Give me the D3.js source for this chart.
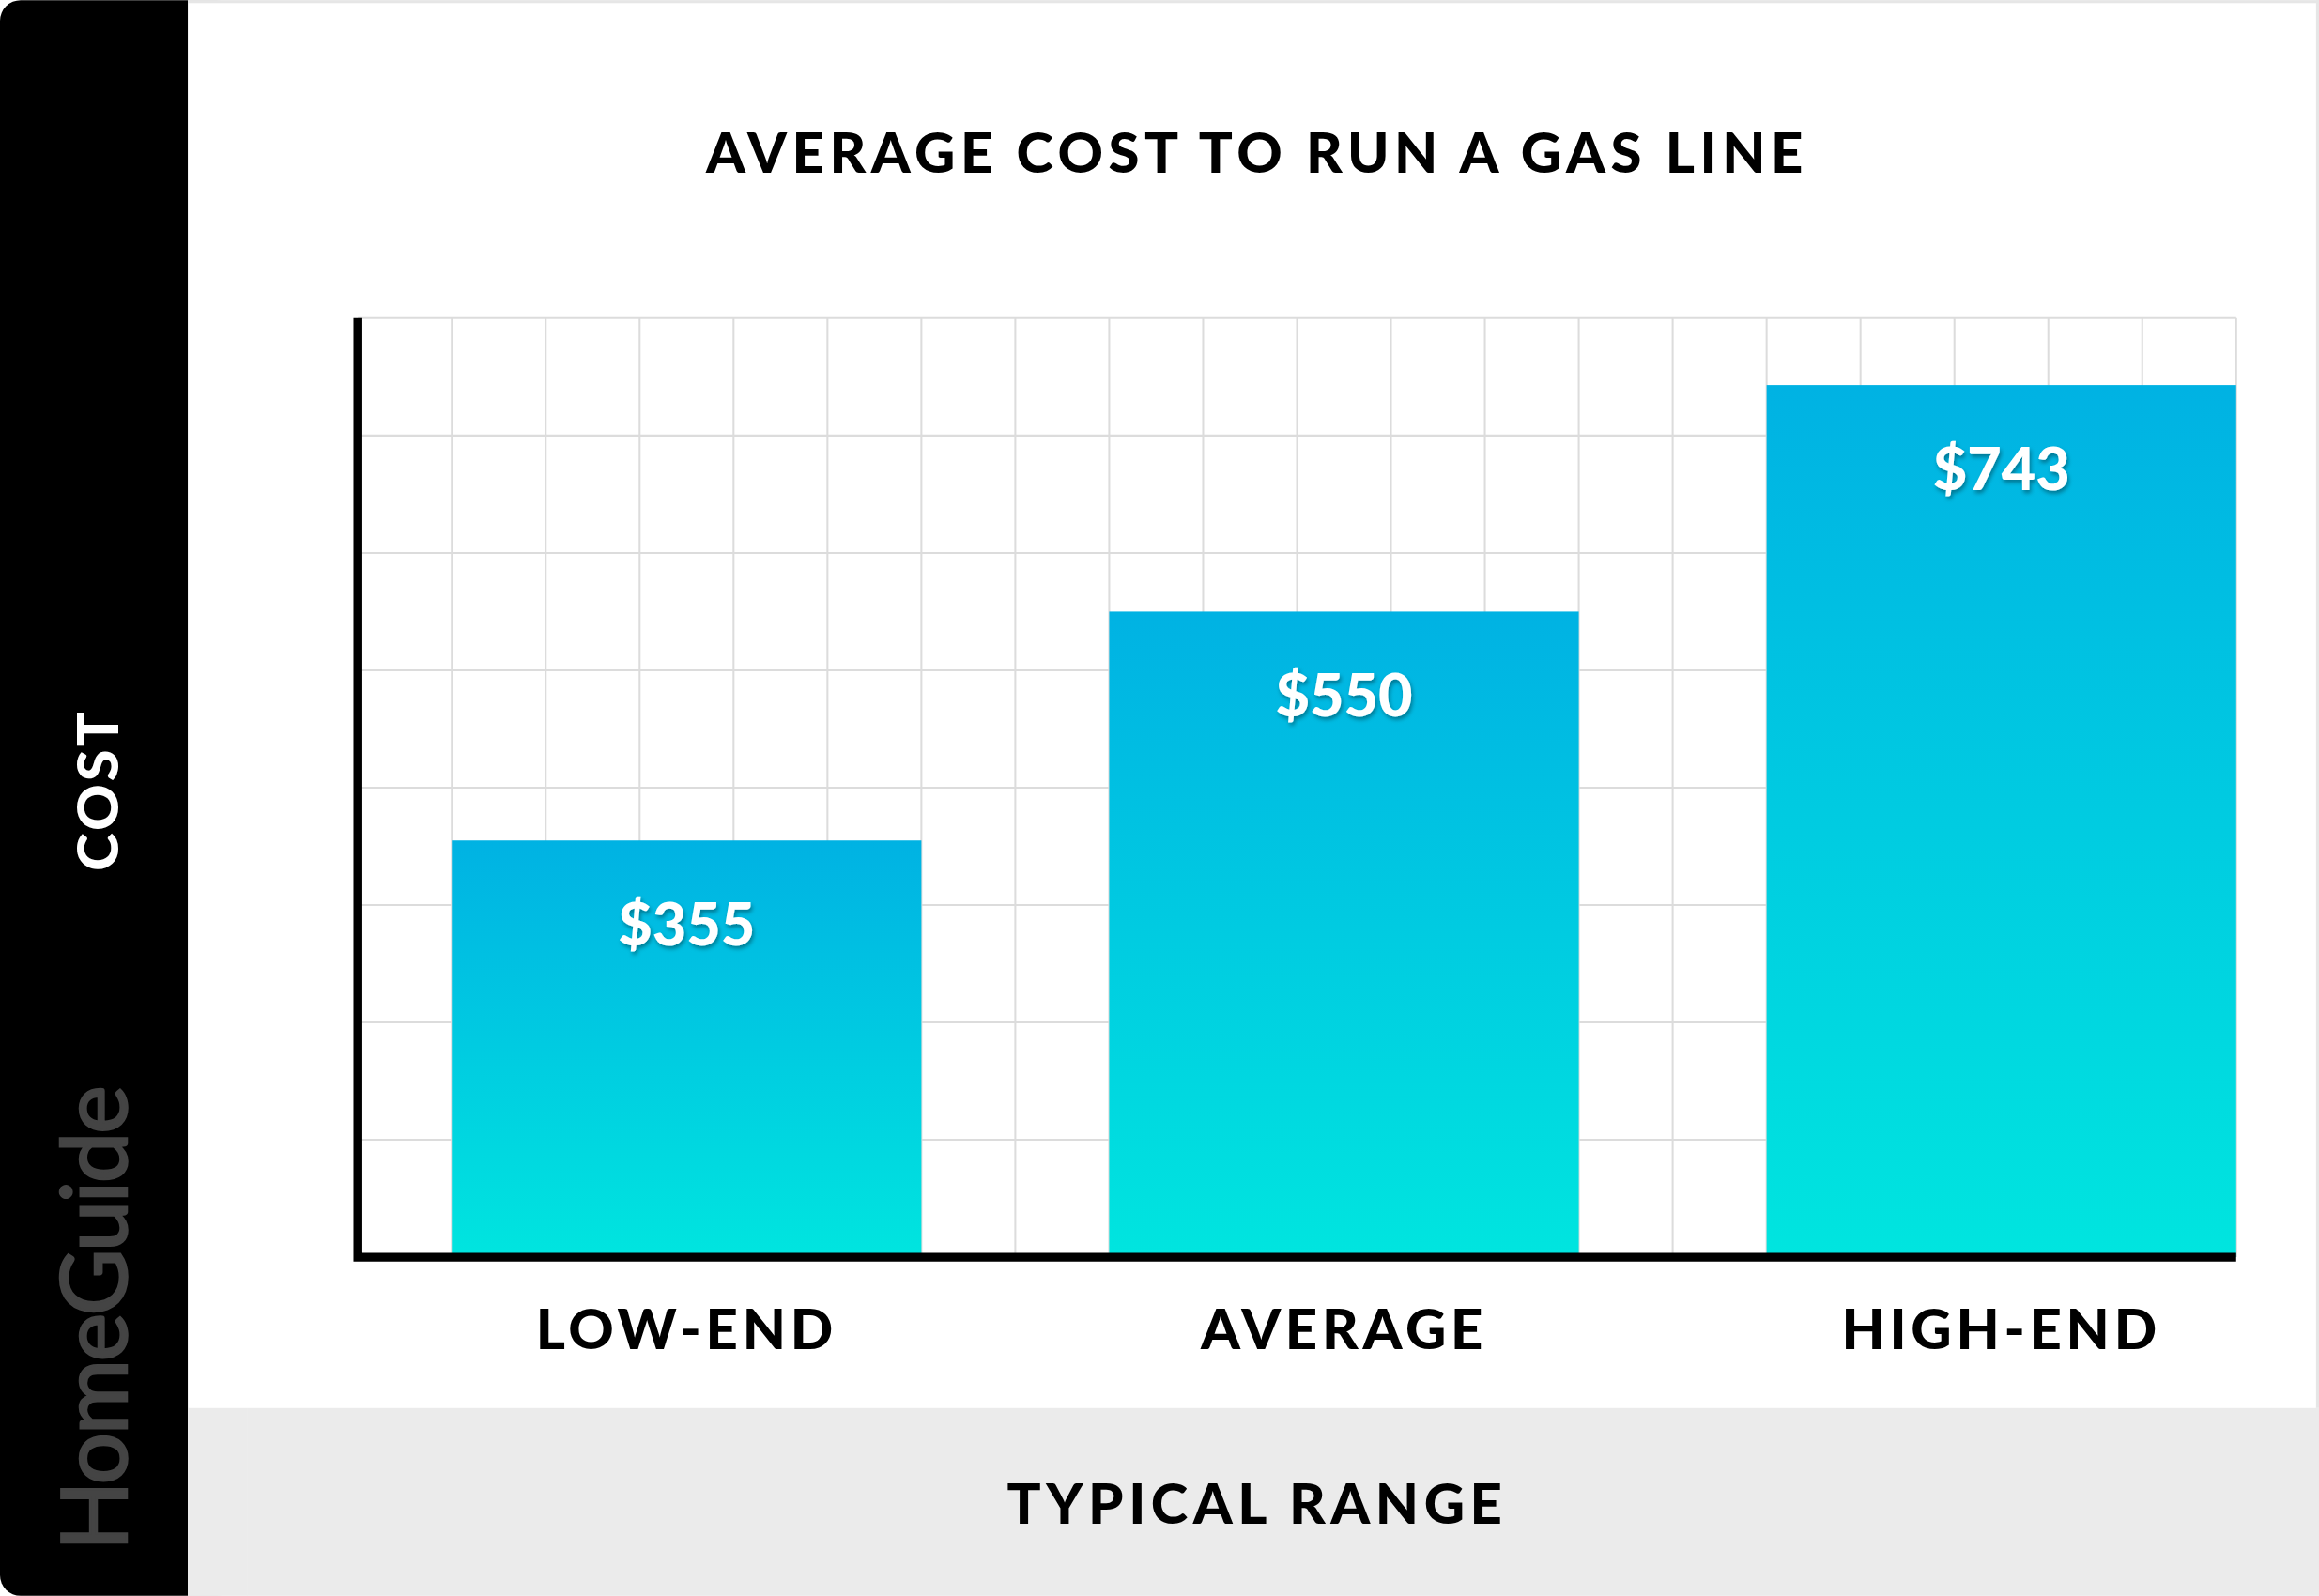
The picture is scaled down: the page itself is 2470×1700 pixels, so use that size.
<!DOCTYPE html>
<html><head><meta charset="utf-8">
<script src="https://cdn.jsdelivr.net/npm/d3@7"></script>
<style>html,body{margin:0;padding:0;background:#fff;overflow:hidden}</style>
</head><body>
<svg id="c" width="2470" height="1700" viewBox="0 0 1568 1079"></svg>
<script>
const categories = ["LOW-END", "AVERAGE", "HIGH-END"];
const values = [355, 550, 743];
const valueLabels = ["$355", "$550", "$743"];
const yTicks = [0,100,200,300,400,500,600,700,800];

const svg = d3.select("#c");
const F = "Lato, 'DejaVu Sans', sans-serif";
const defs = svg.append("defs");
const g = defs.append("linearGradient").attr("id","bar").attr("x1",0).attr("y1",0).attr("x2",0).attr("y2",1);
g.append("stop").attr("offset","0%").attr("stop-color","#00b2e3");
g.append("stop").attr("offset","100%").attr("stop-color","#00e5df");
const f = defs.append("filter").attr("id","sh").attr("x","-20%").attr("y","-20%").attr("width","140%").attr("height","140%");
f.append("feDropShadow").attr("dx",1).attr("dy",2).attr("stdDeviation",1.5).attr("flood-color","#000").attr("flood-opacity",0.35);

svg.append("rect").attr("width",1568).attr("height",1079).attr("fill","#fff");
svg.append("rect").attr("x",127).attr("y",952).attr("width",1441).attr("height",127).attr("fill","#ebebeb");
svg.append("rect").attr("x",0).attr("y",0).attr("width",160).attr("height",1079).attr("rx",14).attr("fill","#000");
svg.append("rect").attr("x",127).attr("y",0).attr("width",40).attr("height",1079).attr("fill","#fff");
svg.append("rect").attr("x",127).attr("y",952).attr("width",40).attr("height",127).attr("fill","#ebebeb");
svg.append("rect").attr("x",1566).attr("y",0).attr("width",2).attr("height",952).attr("fill","#e6e6e6");
svg.append("rect").attr("x",127).attr("y",0).attr("width",1441).attr("height",2).attr("fill","#e6e6e6");

const L=242, R=1512, T=215, B=850;
const x = d3.scaleBand().domain(categories).range([L,R]).paddingInner(2/7).paddingOuter(1/14).align(1);
const y = d3.scaleLinear().domain([0,800]).range([B,T]);
const xc = d3.scaleLinear().domain([0,20]).range([L,R]);

const grid = svg.append("g").attr("stroke","#dcdcdc").attr("stroke-width",1.3);
grid.selectAll(".v").data(d3.range(1,21)).join("line").attr("x1",d=>xc(d)).attr("x2",d=>xc(d)).attr("y1",T).attr("y2",B);
grid.selectAll(".h").data(yTicks.slice(1)).join("line").attr("x1",L).attr("x2",R).attr("y1",d=>y(d)).attr("y2",d=>y(d));

svg.selectAll(".bar").data(values).join("rect")
  .attr("x",(d,i)=>x(categories[i])).attr("width",x.bandwidth())
  .attr("y",d=>y(d)).attr("height",d=>B-y(d)).attr("fill","url(#bar)");

svg.selectAll(".vl").data(values).join("text")
  .attr("x",(d,i)=>x(categories[i])+x.bandwidth()/2).attr("y",d=>y(d)+71)
  .attr("text-anchor","middle").attr("fill","#fff").attr("font-family",F).attr("font-weight",900)
  .attr("font-size",40).attr("filter","url(#sh)").text((d,i)=>valueLabels[i]);

svg.append("path").attr("d",`M${L},${T}V${B}H${R}`).attr("fill","none").attr("stroke","#000").attr("stroke-width",6);

svg.selectAll(".cl").data(categories).join("text")
  .attr("x",d=>x(d)+x.bandwidth()/2).attr("y",912).attr("text-anchor","middle")
  .attr("font-family",F).attr("font-weight",900).attr("font-size",38).attr("letter-spacing",3).text(d=>d);

svg.append("text").attr("x",850).attr("y",117).attr("text-anchor","middle").attr("font-family",F)
  .attr("font-weight",900).attr("font-size",38).attr("letter-spacing",3.5).text("AVERAGE COST TO RUN A GAS LINE");
svg.append("text").attr("x",850).attr("y",1030).attr("text-anchor","middle").attr("font-family",F)
  .attr("font-weight",900).attr("font-size",38).attr("letter-spacing",3.5).text("TYPICAL RANGE");
svg.append("text").attr("transform","translate(80,534) rotate(-90)").attr("text-anchor","middle").attr("font-family",F)
  .attr("font-weight",900).attr("font-size",39).attr("letter-spacing",2).attr("fill","#fff").text("COST");
svg.append("text").attr("transform","translate(86,892) rotate(-90)").attr("text-anchor","middle").attr("font-family",F)
  .attr("font-weight",400).attr("font-size",62).attr("letter-spacing",-1.5).attr("fill","#444")
  .attr("stroke","#444").attr("stroke-width",1.6).text("HomeGuide");
</script></body></html>
